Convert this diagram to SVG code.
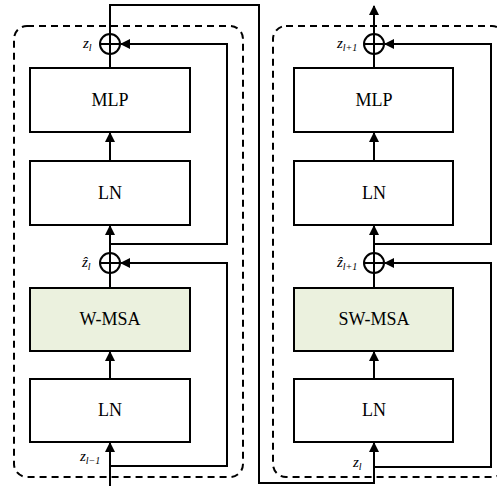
<svg xmlns="http://www.w3.org/2000/svg" width="497" height="486" viewBox="0 0 497 486">
<defs>
<marker id="ah" markerWidth="10" markerHeight="10" refX="9" refY="5" orient="auto" markerUnits="userSpaceOnUse">
<path d="M0,0 L10,5 L0,10 z" fill="#000"/>
</marker>
<style>
.box{fill:#fff;stroke:#000;stroke-width:2}
.att{fill:#ebf1de;stroke:#000;stroke-width:2}
.dash{fill:none;stroke:#000;stroke-width:2;stroke-dasharray:7 5}
.ln{fill:none;stroke:#000;stroke-width:2}
.lbl{font-family:"Liberation Serif",serif;font-size:18px;text-anchor:middle;fill:#000}
.v{font-family:"Liberation Serif",serif;font-size:15px;font-style:italic;fill:#000}
.s{font-size:10px}
</style>
</defs>
<rect class="dash" x="14" y="26" width="229" height="451" rx="13"/>
<rect class="dash" x="273" y="26" width="232" height="451" rx="13"/>
<g id="connectors">
<line class="ln" x1="110" y1="486" x2="110" y2="443" marker-end="url(#ah)"/>
<line class="ln" x1="110" y1="379" x2="110" y2="352" marker-end="url(#ah)"/>
<line class="ln" x1="110" y1="288" x2="110" y2="273"/>
<line class="ln" x1="110" y1="253" x2="110" y2="226" marker-end="url(#ah)"/>
<line class="ln" x1="110" y1="161" x2="110" y2="133" marker-end="url(#ah)"/>
<line class="ln" x1="110" y1="68" x2="110" y2="54"/>
<polyline class="ln" points="110,466 227,466 227,263 121,263" marker-end="url(#ah)"/>
<polyline class="ln" points="110,244 227,244 227,44 121,44" marker-end="url(#ah)"/>
<polyline class="ln" points="110,34 110,5 259,5 259,483 374,483 374,443" marker-end="url(#ah)"/>
<line class="ln" x1="374" y1="379" x2="374" y2="352" marker-end="url(#ah)"/>
<line class="ln" x1="374" y1="288" x2="374" y2="273"/>
<line class="ln" x1="374" y1="253" x2="374" y2="226" marker-end="url(#ah)"/>
<line class="ln" x1="374" y1="161" x2="374" y2="133" marker-end="url(#ah)"/>
<line class="ln" x1="374" y1="68" x2="374" y2="54"/>
<line class="ln" x1="374" y1="34" x2="374" y2="6" marker-end="url(#ah)"/>
<polyline class="ln" points="374,467 491,467 491,263 385,263" marker-end="url(#ah)"/>
<polyline class="ln" points="374,244 491,244 491,44 385,44" marker-end="url(#ah)"/>
</g>
<g id="add1"><circle class="ln" cx="110" cy="44" r="10"/><path class="ln" d="M100,44 H120 M110,34 V54"/></g>
<g id="add2"><circle class="ln" cx="110" cy="263" r="10"/><path class="ln" d="M100,263 H120 M110,253 V273"/></g>
<g id="add3"><circle class="ln" cx="374" cy="44" r="10"/><path class="ln" d="M364,44 H384 M374,34 V54"/></g>
<g id="add4"><circle class="ln" cx="374" cy="263" r="10"/><path class="ln" d="M364,263 H384 M374,253 V273"/></g>
<g id="mlp1"><rect class="box" x="30" y="68" width="160" height="64"/><text class="lbl" x="110" y="106">MLP</text></g>
<g id="ln1"><rect class="box" x="30" y="161" width="160" height="64"/><text class="lbl" x="110" y="199">LN</text></g>
<g id="wmsa"><rect class="att" x="30" y="288" width="160" height="63"/><text class="lbl" x="110" y="325">W-MSA</text></g>
<g id="ln2"><rect class="box" x="30" y="379" width="160" height="63"/><text class="lbl" x="110" y="416">LN</text></g>
<g id="mlp2"><rect class="box" x="294" y="68" width="159" height="64"/><text class="lbl" x="374" y="106">MLP</text></g>
<g id="ln3"><rect class="box" x="294" y="161" width="159" height="64"/><text class="lbl" x="374" y="199">LN</text></g>
<g id="swmsa"><rect class="att" x="294" y="288" width="159" height="63"/><text class="lbl" x="374" y="325">SW-MSA</text></g>
<g id="ln4"><rect class="box" x="294" y="379" width="159" height="63"/><text class="lbl" x="374" y="416">LN</text></g>
<g id="labels">
<text class="v" x="83" y="48">z<tspan class="s" dy="3">l</tspan></text>
<text class="v" x="82" y="267">ẑ<tspan class="s" dy="3">l</tspan></text>
<text class="v" x="80" y="461">z<tspan class="s" dy="3">l−1</tspan></text>
<text class="v" x="337" y="48">z<tspan class="s" dy="3">l+1</tspan></text>
<text class="v" x="337" y="267">ẑ<tspan class="s" dy="3">l+1</tspan></text>
<text class="v" x="353" y="467">z<tspan class="s" dy="3">l</tspan></text>
</g>
</svg>
